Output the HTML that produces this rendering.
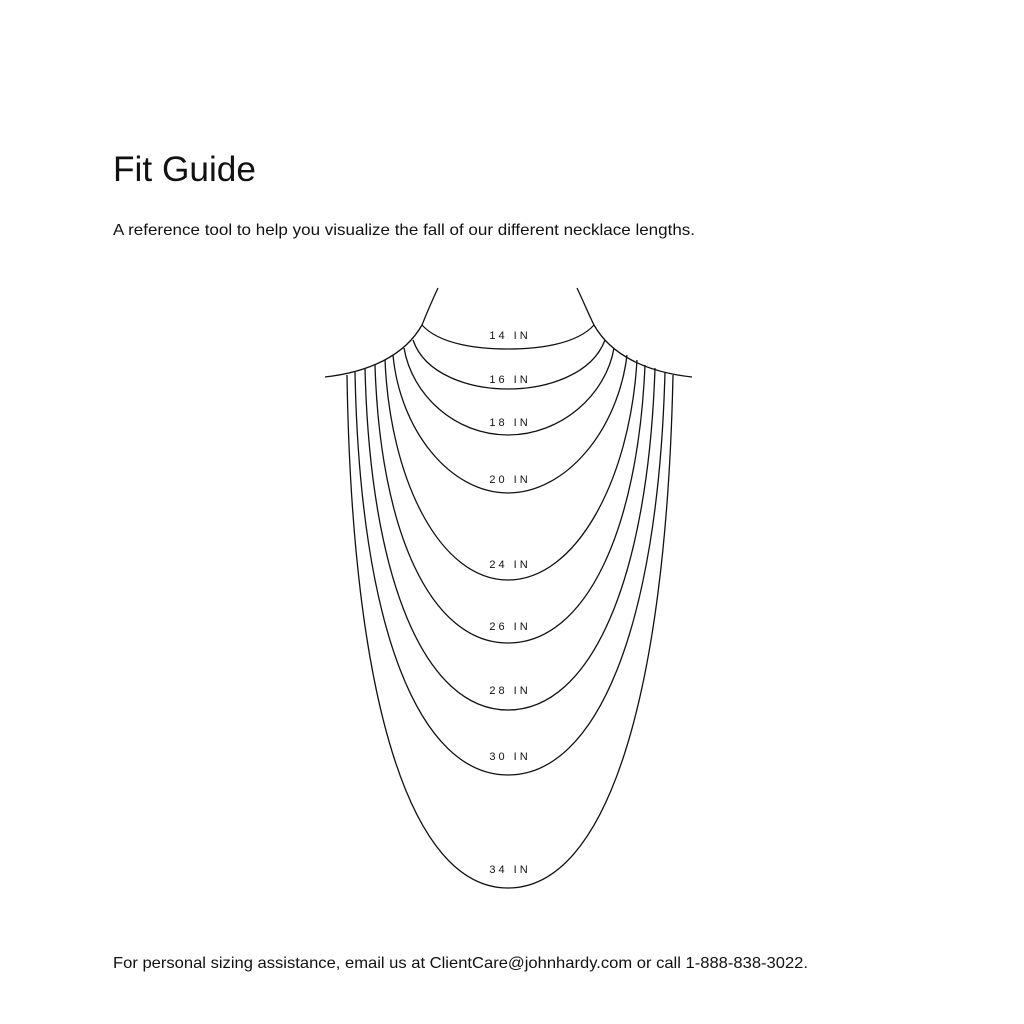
<!DOCTYPE html>
<html><head><meta charset="utf-8"><style>
html,body{margin:0;padding:0;background:#fff;}
svg{display:block;}
text{font-family:"Liberation Sans",sans-serif;fill:#111;}
.l{font-size:11px;letter-spacing:3px;text-anchor:middle;}
</style></head><body>
<svg width="1024" height="1024" viewBox="0 0 1024 1024">
<text x="113" y="181" font-size="35" textLength="143" lengthAdjust="spacingAndGlyphs">Fit Guide</text>
<text x="113" y="235" font-size="16" textLength="582" lengthAdjust="spacingAndGlyphs">A reference tool to help you visualize the fall of our different necklace lengths.</text>
<text x="113" y="968" font-size="16" textLength="695" lengthAdjust="spacingAndGlyphs">For personal sizing assistance, email us at ClientCare@johnhardy.com or call 1-888-838-3022.</text>
<g fill="none" stroke="#111" stroke-width="1.3">
<path d="M438,288 C430,305 426,315 422,325 C405,355 370,372 325,377"/>
<path d="M577,288 C585,305 589,315 594,325 C611,355 646,372 692,377"/>
<path d="M422,325 C440,345 480,349 508,349 C536,349 576,345 594,325"/>
<path d="M413,340 C425,375 470,389 508,389 C546,389 592,375 605,340"/>
<path d="M404,348 C412,395 455,435 508,435 C561,435 606,395 614,348"/>
<path d="M393,355 C400,430 450,493 508,493 C566,493 618,430 627,355"/>
<path d="M385,360 C390,480 440,580 508,580 C576,580 630,480 637,360"/>
<path d="M375,365 C380,530 430,643 508,643 C586,643 638,530 645,365"/>
<path d="M365,368 C370,580 425,710 508,710 C591,710 648,580 655,368"/>
<path d="M355,372 C360,630 420,775 508,775 C596,775 658,630 665,372"/>
<path d="M347,375 C352,700 410,888 508,888 C606,888 666,700 673,375"/>
</g>
<text class="l" x="510" y="339">14 IN</text>
<text class="l" x="510" y="383">16 IN</text>
<text class="l" x="510" y="426">18 IN</text>
<text class="l" x="510" y="483">20 IN</text>
<text class="l" x="510" y="568">24 IN</text>
<text class="l" x="510" y="630">26 IN</text>
<text class="l" x="510" y="694">28 IN</text>
<text class="l" x="510" y="760">30 IN</text>
<text class="l" x="510" y="873">34 IN</text>
</svg>
</body></html>
